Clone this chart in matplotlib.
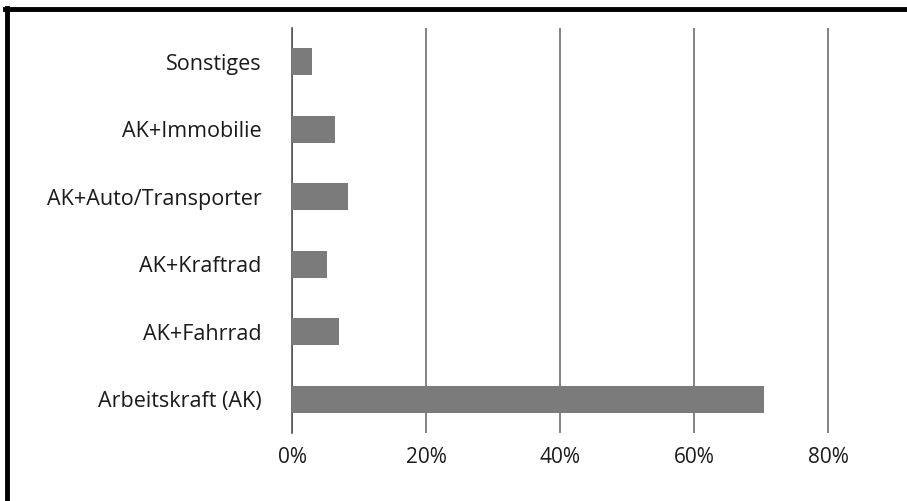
import matplotlib
matplotlib.use("Agg")
import matplotlib.pyplot as plt
from matplotlib.lines import Line2D
from matplotlib.ticker import PercentFormatter

categories = ["Arbeitskraft (AK)", "AK+Fahrrad", "AK+Kraftrad",
              "AK+Auto/Transporter", "AK+Immobilie", "Sonstiges"]
shares = [0.705, 0.070, 0.052, 0.084, 0.064, 0.030]
ticks = [0, 0.2, 0.4, 0.6, 0.8]

plt.rcParams['font.family'] = ['Open Sans', 'DejaVu Sans']

fig = plt.figure(figsize=(9.07, 5.01), dpi=100)
ax = fig.add_axes([0.322, 0.136, 0.628, 0.808])

ax.barh(range(len(categories)), shares, height=0.4, color='#7b7b7b', zorder=3)
ax.set_yticks(range(len(categories)))
ax.set_yticklabels(categories, fontsize=15.5, color='#1a1a1a')
ax.set_ylim(-0.5, len(categories) - 0.5)
ax.set_xlim(0, 0.85)
ax.set_xticks(ticks)
ax.xaxis.set_major_formatter(PercentFormatter(1.0, decimals=0))
ax.tick_params(axis='x', labelsize=15, colors='#1a1a1a', length=0, pad=10)
ax.tick_params(axis='y', length=0, pad=22)
ax.grid(axis='x', color='#6e6e6e', linewidth=1.2, zorder=0)
for s in ['top', 'right', 'bottom']:
    ax.spines[s].set_visible(False)
ax.spines['left'].set_color('#555555')
ax.spines['left'].set_linewidth(1.2)

# black frame (left and top edges)
fig.add_artist(Line2D([0.008, 0.008], [0, 0.984], transform=fig.transFigure,
                      color='black', linewidth=3.5))
fig.add_artist(Line2D([0.006, 1], [0.982, 0.982], transform=fig.transFigure,
                      color='black', linewidth=3.5))

fig.savefig("out.png", dpi=100)
